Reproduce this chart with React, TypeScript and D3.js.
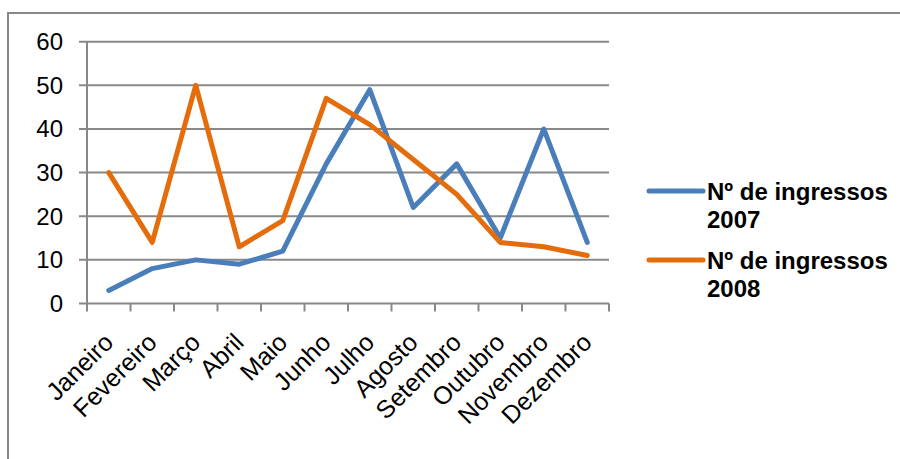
import React from "react";
import * as d3 from "d3";

const months = ["Janeiro","Fevereiro","Março","Abril","Maio","Junho","Julho","Agosto","Setembro","Outubro","Novembro","Dezembro"];
const series2007 = [3, 8, 10, 9, 12, 32, 49, 22, 32, 15, 40, 14];
const series2008 = [30, 14, 50, 13, 19, 47, 41, 33, 25, 14, 13, 11];
const yTicks = [0, 10, 20, 30, 40, 50, 60];
const seriesNames = ["Nº de ingressos 2007", "Nº de ingressos 2008"];
const colors = ["#4a7ebb", "#e46c0a"];

export default function App() {
  const W = 900, H = 459;
  const x0 = 87, x1 = 609, yTop = 41.7, yBot = 303.5;
  const x = d3.scaleBand<string>().domain(months).range([x0, x1]);
  const y = d3.scaleLinear().domain([0, 60]).range([yBot, yTop]);
  const line = d3.line<number>()
    .x((_, i) => (x(months[i]) as number) + x.bandwidth() / 2)
    .y((d) => y(d));
  const font = "'Liberation Sans', Arial, sans-serif";
  const grid = "#888888";
  const allSeries = [series2007, series2008];
  const tickXs = months.map((m) => x(m) as number).concat([x1]);
  return (
    <svg width={W} height={H} style={{ position: "absolute", left: 0, top: 0, background: "#fff" }} fontFamily={font}>
      <rect x={8} y={13} width={1000} height={1000} fill="#fff" stroke={grid} strokeWidth={2} />
      {yTicks.map((t) => (
        <g key={t}>
          <line x1={x0 - 8} x2={x1} y1={y(t)} y2={y(t)} stroke={grid} strokeWidth={2} />
          <text x={63} y={y(t) + 8.5} textAnchor="end" fontSize={24} fill="#000">{t}</text>
        </g>
      ))}
      <line x1={x0} x2={x0} y1={yTop} y2={yBot} stroke={grid} strokeWidth={2} />
      {tickXs.map((tx, i) => (
        <line key={i} x1={tx} x2={tx} y1={yBot} y2={yBot + 8} stroke={grid} strokeWidth={2} />
      ))}
      {months.map((m) => {
        const cx = (x(m) as number) + x.bandwidth() / 2;
        const ax = cx + 6, ay = 344;
        return (
          <text key={m} x={ax} y={ay} textAnchor="end" fontSize={25} fill="#000"
            transform={`rotate(-45 ${ax} ${ay})`}>{m}</text>
        );
      })}
      {allSeries.map((s, i) => (
        <path key={i} d={line(s) || ""} fill="none" stroke={colors[i]} strokeWidth={5}
          strokeLinejoin="round" strokeLinecap="round" />
      ))}
      {seriesNames.map((n, i) => {
        const ly = 191 + i * 69;
        const parts = n.split(" ");
        const first = parts.slice(0, 3).join(" ");
        const second = parts[3];
        return (
          <g key={n}>
            <line x1={649} x2={703} y1={ly} y2={ly} stroke={colors[i]} strokeWidth={5} strokeLinecap="round" />
            <text x={707} y={ly + 9} fontSize={24} fontWeight="bold" fill="#000">{first}</text>
            <text x={707} y={ly + 37} fontSize={24} fontWeight="bold" fill="#000">{second}</text>
          </g>
        );
      })}
    </svg>
  );
}
